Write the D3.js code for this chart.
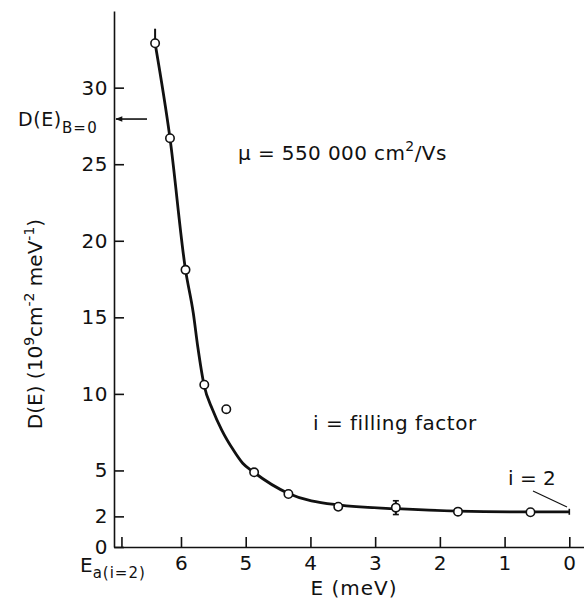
<!DOCTYPE html>
<meta charset="utf-8">
<script src="https://cdn.jsdelivr.net/npm/d3@7"></script>
<style>
body { margin: 0; background: #fff; }
text { font-family: "DejaVu Sans", sans-serif; fill: #111; }
.axis path, .axis line { stroke: #111; stroke-width: 1.6; }
.axis text { font-size: 20px; font-family: "DejaVu Sans", sans-serif; fill: #111; letter-spacing: 0.5px; }
</style>
<body>
<script>
// measured points
var pointE = [6.40, 6.17, 5.93, 5.64, 5.30, 4.87, 4.34, 3.57, 2.68, 1.72, 0.60]
var pointD = [32.9, 26.7, 18.1, 10.6, 9.0, 4.88, 3.46, 2.63, 2.57, 2.31, 2.27]
// error bars, only where drawn
var errIdx = [0, 8]
var errLo = [0, 0.45]
var errHi = [0.95, 0.45]
// fitted curve
var curveE = [6.40, 6.17, 5.93, 5.81, 5.74, 5.645, 5.51, 5.37, 5.19, 5.046, 4.88, 4.34, 3.57, 2.68, 1.72, 0.60, 0]
var curveD = [32.9, 26.7, 18.1, 15.28, 13.06, 10.6, 8.95, 7.64, 6.33, 5.47, 4.9, 3.5, 2.75, 2.5, 2.34, 2.29, 2.3]
var yTicks = [0, 2, 5, 10, 15, 20, 25, 30]
var xTicks = [6.92, 6, 5, 4, 3, 2, 1, 0]
var dB0 = 27.95
var eA = 6.92

var W = 584, H = 607
var svg = d3.select("body").append("svg").attr("width", W).attr("height", H)

var x = d3.scaleLinear().domain([7.035, -0.227]).range([114, 584])
var y = d3.scaleLinear().domain([0, 35]).range([547, 11.1])

svg.append("g").attr("class", "axis").attr("transform", "translate(0,547)")
  .call(d3.axisBottom(x).tickValues(xTicks).tickSize(-10).tickSizeOuter(0).tickPadding(9)
    .tickFormat(d => d == eA ? "" : d3.format("d")(d)))
svg.append("g").attr("class", "axis").attr("transform", "translate(114,0)")
  .call(d3.axisLeft(y).tickValues(yTicks).tickSize(-10).tickSizeOuter(0).tickPadding(6))

// curve
var curve = curveE.map((e, i) => [e, curveD[i]])
svg.append("path").datum(curve)
  .attr("d", d3.line().x(d => x(d[0])).y(d => y(d[1])).curve(d3.curveMonotoneX))
  .attr("fill", "none").attr("stroke", "#111").attr("stroke-width", 2.8)

// end cap at E = 0
svg.append("line").attr("x1", x(0)).attr("x2", x(0))
  .attr("y1", y(2.3) - 3).attr("y2", y(2.3) + 3).attr("stroke", "#111").attr("stroke-width", 1.6)

// error bars
errIdx.forEach((k, j) => {
  var cx = x(pointE[k])
  svg.append("line").attr("x1", cx).attr("x2", cx)
    .attr("y1", y(pointD[k] + errHi[j])).attr("y2", y(pointD[k] - errLo[j]))
    .attr("stroke", "#111").attr("stroke-width", 2)
  if (errLo[j] > 0) {
    [pointD[k] + errHi[j], pointD[k] - errLo[j]].forEach(v => {
      svg.append("line").attr("x1", cx - 3).attr("x2", cx + 3).attr("y1", y(v)).attr("y2", y(v))
        .attr("stroke", "#111").attr("stroke-width", 1.6)
    })
  }
})

// points
svg.selectAll("circle.pt").data(pointE).enter().append("circle").attr("class", "pt")
  .attr("cx", d => x(d)).attr("cy", (d, i) => y(pointD[i])).attr("r", 4.2)
  .attr("fill", "#fff").attr("stroke", "#111").attr("stroke-width", 1.6)

// arrow for D(E) at B=0
svg.append("defs").append("marker").attr("id", "ah").attr("viewBox", "0 0 10 10")
  .attr("refX", 9).attr("refY", 5).attr("markerWidth", 10).attr("markerHeight", 7)
  .attr("markerUnits", "userSpaceOnUse").attr("orient", "auto")
  .append("path").attr("d", "M0,1 L10,5 L0,9 Z").attr("fill", "#111")
svg.append("line").attr("x1", 147).attr("x2", 116).attr("y1", y(dB0)).attr("y2", y(dB0))
  .attr("stroke", "#111").attr("stroke-width", 1.6).attr("marker-end", "url(#ah)")

var t = svg.append("text").attr("x", 18).attr("y", y(dB0) + 7).attr("font-size", 19)
t.append("tspan").attr("letter-spacing", 0.6).text("D(E)")
t.append("tspan").attr("dy", 7).attr("font-size", 15).attr("letter-spacing", 1.2).text("B=0")

// E_a(i=2) label
var ta = svg.append("text").attr("x", 80).attr("y", 572).attr("font-size", 20)
ta.append("tspan").text("E")
ta.append("tspan").attr("dy", 6).attr("font-size", 15).attr("letter-spacing", 1).text("a(i=2)")

// axis titles
svg.append("text").attr("x", 354).attr("y", 595).attr("text-anchor", "middle").attr("font-size", 20)
  .attr("letter-spacing", 1).text("E (meV)")
var yl = svg.append("text").attr("transform", "translate(42,324) rotate(-90)")
  .attr("text-anchor", "middle").attr("font-size", 20)
yl.append("tspan").text("D(E) (10")
yl.append("tspan").attr("dy", -8).attr("font-size", 14).text("9")
yl.append("tspan").attr("dy", 8).text("cm")
yl.append("tspan").attr("dy", -8).attr("font-size", 14).text("-2")
yl.append("tspan").attr("dy", 8).text(" meV")
yl.append("tspan").attr("dy", -8).attr("font-size", 14).text("-1")
yl.append("tspan").attr("dy", 8).text(")")

// annotations
var tm = svg.append("text").attr("x", 238).attr("y", 160).attr("font-size", 20).attr("letter-spacing", 0.4)
tm.append("tspan").text("μ = 550 000 cm")
tm.append("tspan").attr("dy", -9).attr("font-size", 14).text("2")
tm.append("tspan").attr("dy", 9).text("/Vs")

svg.append("text").attr("x", 313).attr("y", 430).attr("font-size", 20).attr("letter-spacing", 0.5)
  .text("i = filling  factor")
svg.append("text").attr("x", 508).attr("y", 485).attr("font-size", 20).text("i = 2")
svg.append("line").attr("x1", 533).attr("y1", 491).attr("x2", 567).attr("y2", 507)
  .attr("stroke", "#111").attr("stroke-width", 1.2)
</script>
</body>
